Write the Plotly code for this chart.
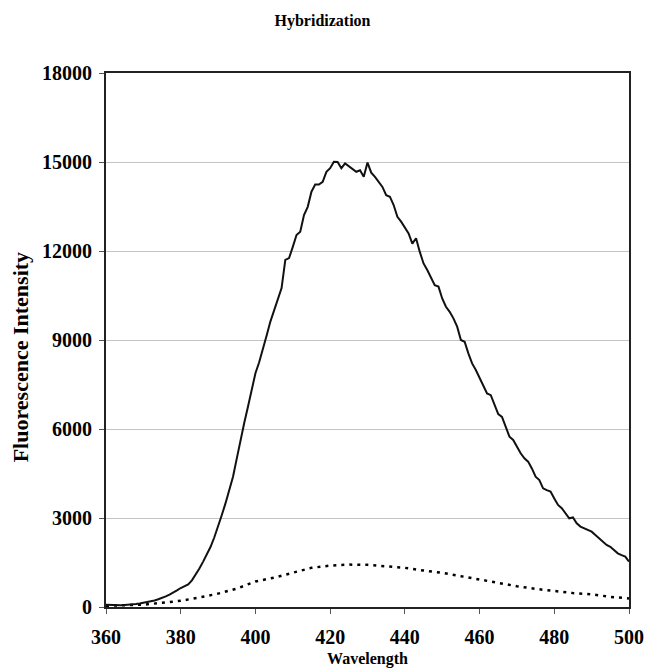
import plotly.graph_objects as go

wavelength = list(range(360, 501))
hybrid = [80, 70, 60, 60, 60, 65, 70, 85, 100, 120,
          140, 165, 190, 220, 260, 300, 360, 420, 480, 560,
          640, 700, 760, 900, 1080, 1300, 1530, 1770, 2030, 2350,
          2700, 3100, 3500, 3950, 4390, 5000, 5630, 6200, 6750, 7300,
          7880, 8250, 8660, 9150, 9620, 10000, 10450, 10750, 11700, 11760,
          12140, 12540, 12650, 13210, 13490, 14000, 14240, 14240, 14330, 14670,
          14790, 15010, 15000, 14790, 14950, 14850, 14760, 14670, 14720, 14500,
          14980, 14640, 14500, 14330, 14160, 13880, 13830, 13550, 13150, 12990,
          12800, 12590, 12250, 12430, 11970, 11580, 11360, 11130, 10850, 10800,
          10400, 10120, 9950, 9730, 9450, 9000, 8940, 8550, 8210, 7990,
          7740, 7480, 7200, 7140, 6810, 6500, 6410, 6080, 5740, 5630,
          5400, 5180, 5010, 4900, 4670, 4390, 4280, 4000, 3940, 3890,
          3660, 3440, 3330, 3160, 2990, 3020, 2820, 2710, 2650, 2600,
          2540, 2430, 2320, 2200, 2090, 2030, 1920, 1810, 1750, 1700,
          1530]

wavelength_ctrl = list(range(360, 501, 5))
control = [40, 50, 80, 140, 210, 320, 450, 620, 860, 990,
           1150, 1320, 1395, 1430, 1420, 1380, 1320, 1230, 1150, 1040,
           920, 800, 700, 610, 530, 470, 430, 340, 290]

x_ticks = [360, 380, 400, 420, 440, 460, 480, 500]
y_ticks = [0, 3000, 6000, 9000, 12000, 15000, 18000]

fig = go.Figure()
fig.add_trace(go.Scatter(x=wavelength_ctrl, y=control, mode="lines",
                         line=dict(color="black", width=2.5, dash="3px,5px"),
                         showlegend=False))
fig.add_trace(go.Scatter(x=wavelength, y=hybrid, mode="lines",
                         line=dict(color="#111111", width=2),
                         showlegend=False))

font_family = "Liberation Serif, Times New Roman, serif"
fig.update_layout(
    width=645, height=671,
    margin=dict(l=106, r=16, t=73, b=64),
    paper_bgcolor="white", plot_bgcolor="white",
    font=dict(family=font_family, color="black"),
    title=dict(text="<b>Hybridization</b>", x=0.5, xanchor="center",
               y=0.97, yanchor="middle", font=dict(size=16, family=font_family)),
    xaxis=dict(range=[360, 500], tickvals=x_ticks,
               ticktext=[f"<b>{v}</b>" for v in x_ticks],
               showgrid=False, zeroline=False, automargin=False,
               showline=True, linecolor="#222", linewidth=2, mirror=True,
               ticks="outside", ticklen=5, tickcolor="#555", tickwidth=1,
               ticklabelstandoff=6,
               tickfont=dict(size=20, family=font_family),
               title=dict(text="<b>Wavelength</b>", standoff=6,
                          font=dict(size=16, family=font_family))),
    yaxis=dict(range=[0, 18000], tickvals=y_ticks,
               ticktext=[f"<b>{v}</b>" for v in y_ticks],
               showgrid=True, gridcolor="#c4c4c4", gridwidth=1, zeroline=False,
               automargin=False,
               showline=True, linecolor="#222", linewidth=2, mirror=True,
               ticks="outside", ticklen=5, tickcolor="#555", tickwidth=1,
               ticklabelstandoff=3,
               tickfont=dict(size=20, family=font_family)),
    annotations=[dict(text="<b>Fluorescence Intensity</b>", textangle=-90,
                      xref="paper", yref="paper", x=-0.164, y=0.468,
                      xanchor="center", yanchor="middle", showarrow=False,
                      font=dict(size=22, family=font_family))],
)

fig.write_html("out.html",
               config={"displayModeBar": False},
               post_script="document.body.style.margin='0';document.body.style.overflow='hidden';")
